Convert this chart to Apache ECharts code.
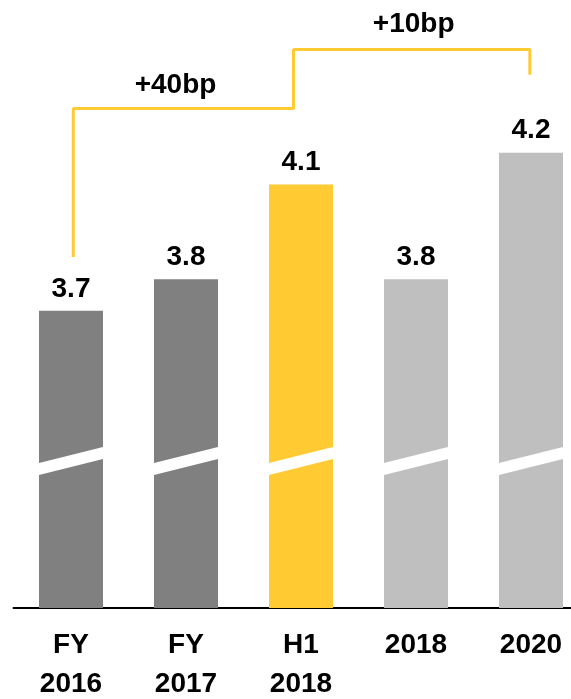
<!DOCTYPE html>
<html>
<head>
<meta charset="utf-8">
<script src="https://cdn.jsdelivr.net/npm/echarts@6/dist/echarts.min.js"></script>
<style>
  html, body { margin: 0; padding: 0; background: #fff; }
  #chart { width: 571px; height: 699px; }
</style>
</head>
<body>
<div id="chart"></div>
<script>
// Periods and the ratio (%) for each
const categories = ['FY\n2016', 'FY\n2017', 'H1\n2018', '2018', '2020'];
const values = [3.7, 3.8, 4.1, 3.8, 4.2];

// Level where the bars are cut to show the broken value axis
const breakLevel = 3.225;

// Step bracket linking FY2016 -> H1 2018 -> 2020 (x in category index units)
const bracketX = [0.02, 0.02, 1.935, 1.935, 3.99, 3.99];
const bracketY = [3.87, 4.34, 4.34, 4.527, 4.527, 4.447];

// Bracket captions
const noteX = [0.909, 2.98];
const noteY = [4.415, 4.606];
const noteText = ['+40bp', '+10bp'];

const DARK = '#808080', GOLD = '#FFCA32', LIGHT = '#BFBFBF';
const barColors = [DARK, DARK, GOLD, LIGHT, LIGHT];
const FONT = "'Liberation Sans', Arial, sans-serif";
const FS = 28;

const chart = echarts.init(document.getElementById('chart'), null, { renderer: 'canvas' });

chart.setOption({
  animation: false,
  backgroundColor: '#ffffff',
  grid: {
    left: 13.5, width: 575, top: 20, bottom: 91,
    containLabel: false,
    outerBoundsMode: 'none'
  },
  xAxis: [
    {
      type: 'category',
      data: categories,
      axisTick: { show: false },
      axisLine: { show: true, lineStyle: { color: '#000', width: 2 } },
      axisLabel: {
        interval: 0,
        margin: 18,
        color: '#000',
        fontFamily: FONT,
        fontWeight: 'bold',
        fontSize: FS,
        lineHeight: 39
      }
    },
    {
      type: 'value',
      min: -0.5,
      max: 4.5,
      show: false
    }
  ],
  yAxis: {
    type: 'value',
    min: 2.76,
    max: 4.62,
    show: false,
    splitLine: { show: false }
  },
  series: [
    {
      type: 'bar',
      xAxisIndex: 0,
      barWidth: 64,
      data: values.map((v, i) => ({ value: v, itemStyle: { color: barColors[i] } })),
      label: {
        show: true,
        position: 'top',
        distance: 8,
        color: '#000',
        fontFamily: FONT,
        fontWeight: 'bold',
        fontSize: FS,
        formatter: p => p.value.toFixed(1)
      },
      z: 2
    },
    {
      // white slanted cut through each bar
      type: 'custom',
      xAxisIndex: 0,
      data: values.map((v, i) => [i, breakLevel]),
      renderItem: function (params, api) {
        const c = api.coord([api.value(0), api.value(1)]);
        const half = 40, slope = 0.25, thick = 6;
        return {
          type: 'polygon',
          shape: {
            points: [
              [c[0] - half, c[1] + half * slope - thick],
              [c[0] + half, c[1] - half * slope - thick],
              [c[0] + half, c[1] - half * slope + thick],
              [c[0] - half, c[1] + half * slope + thick]
            ]
          },
          style: { fill: '#ffffff' }
        };
      },
      z: 3
    },
    {
      type: 'line',
      xAxisIndex: 1,
      data: bracketX.map((x, i) => [x, bracketY[i]]),
      symbol: 'none',
      lineStyle: { color: GOLD, width: 3 },
      clip: false,
      z: 4
    },
    {
      // bracket captions
      type: 'custom',
      xAxisIndex: 1,
      clip: false,
      data: noteX.map((x, i) => [x, noteY[i], i]),
      renderItem: function (params, api) {
        const c = api.coord([api.value(0), api.value(1)]);
        return {
          type: 'text',
          x: c[0],
          y: c[1],
          style: {
            text: noteText[api.value(2)],
            fill: '#000000',
            font: 'bold ' + FS + 'px ' + FONT,
            align: 'center',
            verticalAlign: 'middle'
          }
        };
      },
      z: 5
    }
  ]
});
</script>
</body>
</html>
